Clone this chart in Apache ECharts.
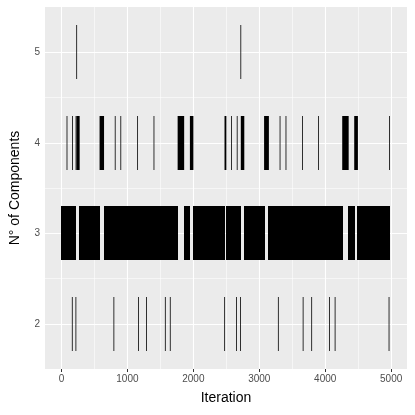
<!DOCTYPE html>
<html>
<head>
<meta charset="utf-8">
<script src="https://cdn.jsdelivr.net/npm/echarts@6/dist/echarts.min.js"></script>
<style>
  html, body { margin: 0; padding: 0; background: #fff; }
  #chart { width: 415px; height: 415px; }
</style>
</head>
<body>
<div id="chart"></div>
<script>
  // number of iterations in the chain
  var nIter = 4980

  // runs where the chain leaves 3 components (start iteration, end iteration, components)
  var runStart = [78, 158, 161, 213, 215, 225, 227, 578, 789, 809, 894, 1149, 1164, 1284, 1397, 1569, 1644, 1762, 1948,
    2469, 2473, 2574, 2649, 2659, 2709, 2714, 2720, 3073, 3283, 3309, 3399, 3649, 3659, 3789, 3892, 4059, 4144,
    4258, 4440, 4962, 4970]
  var runEnd = [82, 160, 163, 214, 224, 226, 275, 645, 791, 810, 895, 1150, 1165, 1285, 1402, 1570, 1645, 1860, 2000,
    2470, 2500, 2576, 2650, 2660, 2710, 2716, 2772, 3145, 3286, 3311, 3400, 3651, 3660, 3790, 3897, 4060, 4145,
    4355, 4495, 4963, 4980]
  var runK = [4, 2, 4, 2, 4, 5, 4, 4, 2, 4, 4, 4, 2, 2, 4, 2, 2, 4, 4,
    2, 4, 4, 2, 4, 2, 5, 4, 4, 2, 4, 4, 4, 2, 2, 4, 2, 2,
    4, 4, 2, 4]

  var xTicks = [0, 1000, 2000, 3000, 4000, 5000]
  var xMinor = [500, 1500, 2500, 3500, 4500]
  var yTicks = [2, 3, 4, 5]
  var yMinor = [2.5, 3.5, 4.5]

  // fill the rest of the chain with 3 components
  var segs = []
  var cursor = 1
  for (var i = 0; i < runStart.length; i++) {
    if (runStart[i] > cursor) segs.push([cursor, runStart[i] - 1, 3])
    segs.push([runStart[i], runEnd[i], runK[i]])
    cursor = runEnd[i] + 1
  }
  if (cursor <= nIter) segs.push([cursor, nIter, 3])

  var gridLines = []
  xTicks.forEach(function (v) { gridLines.push({ xAxis: v, lineStyle: { width: 1.1 } }) })
  xMinor.forEach(function (v) { gridLines.push({ xAxis: v, lineStyle: { width: 0.55 } }) })
  yTicks.forEach(function (v) { gridLines.push({ yAxis: v, lineStyle: { width: 1.1 } }) })
  yMinor.forEach(function (v) { gridLines.push({ yAxis: v, lineStyle: { width: 0.55 } }) })

  var font = 'Liberation Sans, Arial, sans-serif'
  var plain = function (v) { return String(v) }

  var option = {
    animation: false,
    grid: {
      left: 41,
      right: 8,
      top: 7,
      bottom: 46,
      show: true,
      backgroundColor: '#EBEBEB',
      borderWidth: 0
    },
    xAxis: {
      type: 'value',
      min: -250,
      max: 5240,
      name: 'Iteration',
      nameLocation: 'middle',
      nameGap: 22,
      nameTextStyle: { fontFamily: font, fontSize: 14, color: '#000' },
      axisLine: { show: false },
      axisTick: { show: true, length: 3, customValues: xTicks, lineStyle: { color: '#333', width: 1 } },
      axisLabel: { customValues: xTicks, formatter: plain, fontFamily: font, fontSize: 10, color: '#4D4D4D', margin: 5 },
      splitLine: { show: false }
    },
    yAxis: {
      type: 'value',
      min: 1.5,
      max: 5.5,
      name: 'N° of Components',
      nameLocation: 'middle',
      nameGap: 23,
      nameTextStyle: { fontFamily: font, fontSize: 14, color: '#000' },
      axisLine: { show: false },
      axisTick: { show: true, length: 3, customValues: yTicks, lineStyle: { color: '#333', width: 1 } },
      axisLabel: { customValues: yTicks, formatter: plain, fontFamily: font, fontSize: 10, color: '#4D4D4D', margin: 5 },
      splitLine: { show: false }
    },
    series: [
      {
        type: 'custom',
        z: 3,
        clip: true,
        encode: { x: [0, 1], y: 2 },
        data: segs,
        renderItem: function (params, api) {
          var s = api.value(0)
          var e = api.value(1)
          var k = api.value(2)
          var p0 = api.coord([s - 0.5, k + 0.3])
          var p1 = api.coord([e + 0.5, k - 0.3])
          var y0 = Math.round(p0[1])
          var h = Math.round(p1[1]) - y0
          var x0 = p0[0]
          var w = Math.max(p1[0] - p0[0], 0.8)
          if (k === 3) {
            // snap the main band to whole pixels so neighbouring runs leave no seams
            x0 = Math.floor(p0[0])
            w = Math.ceil(p1[0]) - x0
          }
          return {
            type: 'rect',
            shape: { x: x0, y: y0, width: w, height: h },
            style: { fill: '#000' }
          }
        },
        markLine: {
          z: 1,
          silent: true,
          symbol: 'none',
          label: { show: false },
          lineStyle: { color: '#fff', type: 'solid' },
          data: gridLines
        }
      }
    ]
  }

  var chart = echarts.init(document.getElementById('chart'))
  chart.setOption(option)
</script>
</body>
</html>
